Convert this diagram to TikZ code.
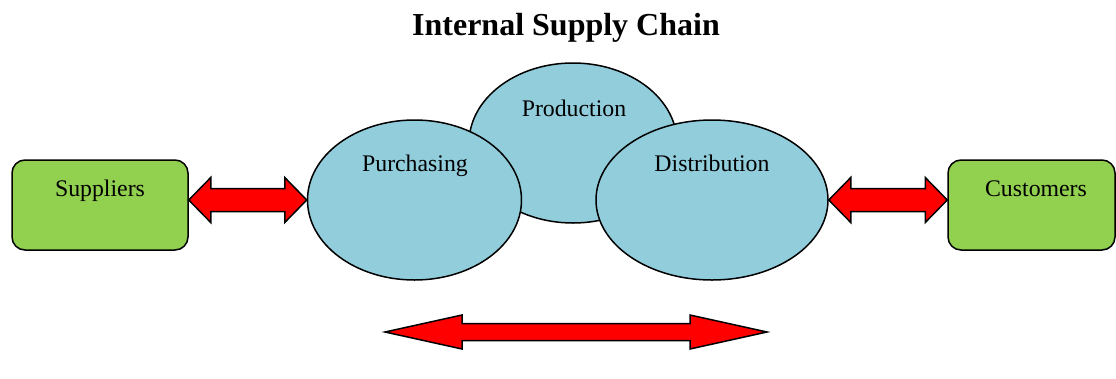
\documentclass[tikz,border=0pt]{standalone}
\usepackage{fontspec}
\setmainfont{Liberation Serif}
\usetikzlibrary{shapes.geometric,calc}
\definecolor{boxgreen}{HTML}{92D050}
\definecolor{ellblue}{HTML}{92CDDC}
\tikzset{
  greenbox/.style={draw=black, line width=1.5pt, fill=boxgreen, rounded corners=13pt, inner sep=0pt},
  ellnode/.style={ellipse, draw=black, line width=1.5pt, fill=ellblue, inner sep=0pt},
  lbl/.style={anchor=base, inner sep=0pt, font=\rmfamily\fontsize{23.8}{28}\selectfont},
  arrowshape/.style={draw=black, line width=1.5pt, fill=red, line join=miter},
}
\newcommand\dblarrow[5]{%
  \draw[arrowshape] (#1) -- ($(#1)+(#3,-#4)$) -- ($(#1)+(#3,-#5)$) -- ($(#2)+(-#3,-#5)$)
    -- ($(#2)+(-#3,-#4)$) -- (#2) -- ($(#2)+(-#3,#4)$) -- ($(#2)+(-#3,#5)$)
    -- ($(#1)+(#3,#5)$) -- ($(#1)+(#3,#4)$) -- cycle;}
\begin{document}
\begin{tikzpicture}[x=1pt,y=-1pt]
\useasboundingbox (0,0) rectangle (1116,378);
% title
\node[anchor=base, inner sep=0pt, font=\rmfamily\bfseries\fontsize{32}{38}\selectfont] (title) at (566,35) {Internal Supply Chain};
% boxes
\node[greenbox, minimum width=176pt, minimum height=90pt] (sup) at (100,205) {};
\node[greenbox, minimum width=167pt, minimum height=90pt] (cus) at (1031.5,205) {};
\node[lbl] (supt) at (100,196.7) {Suppliers};
\node[lbl] (cust) at (1036,196.7) {Customers};
% ellipses
\node[ellnode, minimum width=208pt, minimum height=160pt] (prod) at (573,143) {};
\node[ellnode, minimum width=214pt, minimum height=160pt] (pur) at (414.5,200) {};
\node[ellnode, minimum width=232pt, minimum height=160pt] (dist) at (712,200) {};
\node[lbl] (prodt) at (574,116.7) {Production};
\node[lbl] (purt) at (415,171.7) {Purchasing};
\node[lbl] (distt) at (712,171.7) {Distribution};
% arrows
\coordinate (supE) at (sup.east |- pur.west);
\coordinate (cusW) at (cus.west |- dist.east);
\dblarrow{supE}{pur.west}{22}{22.5}{11.5}
\dblarrow{dist.east}{cusW}{22}{22.5}{11.5}
\coordinate (bl) at (385,332);
\coordinate (br) at (767,332);
\dblarrow{bl}{br}{77}{17}{8.5}
\end{tikzpicture}
\end{document}
